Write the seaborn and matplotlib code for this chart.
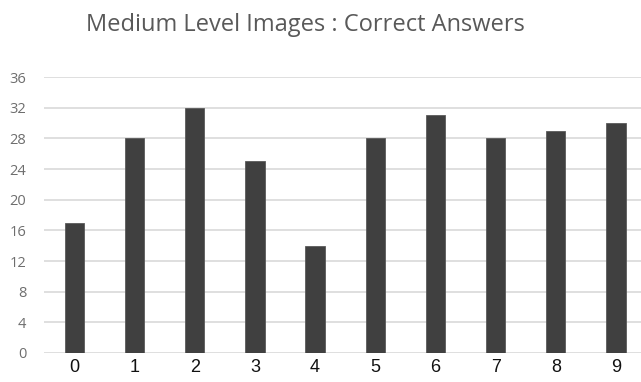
import matplotlib
matplotlib.use("Agg")
import matplotlib.pyplot as plt
import seaborn as sns
import pandas as pd

# Correct answers per image, medium level
images = ["0", "1", "2", "3", "4", "5", "6", "7", "8", "9"]
correct = [17, 28, 32, 25, 14, 28, 31, 28, 29, 30]
y_ticks = [0, 4, 8, 12, 16, 20, 24, 28, 32, 36]

df = pd.DataFrame({"image": images, "correct": correct})

sns.set_theme(style="white")
plt.rcParams["font.family"] = ["Liberation Sans", "DejaVu Sans"]

fig = plt.figure(figsize=(6.41, 3.82), dpi=100)
ax = fig.add_axes([0.069, 0.076, 0.939, 0.722])

sns.barplot(data=df, x="image", y="correct", order=images, color="#404040",
            width=0.32, saturation=1, edgecolor="#5a5a5a", linewidth=0.6,
            ax=ax, zorder=3)

ax.set_ylim(0, 36)
ax.set_xlim(-0.5, 9.5)
ax.set_yticks(y_ticks)
ax.set_yticklabels([str(t) for t in y_ticks], color="#6e6e6e", fontsize=10.5,
                   family=["Open Sans", "DejaVu Sans"])
ax.set_xticklabels(images, color="#111111", fontsize=13)
ax.tick_params(axis="both", length=0)
ax.tick_params(axis="y", pad=13)
ax.tick_params(axis="x", pad=4)
ax.yaxis.grid(True, color="#d9d9d9", linewidth=1.2, zorder=0)
ax.set_axisbelow(True)
for s in ax.spines.values():
    s.set_visible(False)
ax.set_xlabel("")
ax.set_ylabel("")

fig.text(0.476, 0.935, "Medium Level Images : Correct Answers", ha="center",
         va="center", fontsize=17, color="#595959",
         family=["Open Sans", "DejaVu Sans"])

fig.savefig("out.png", dpi=100)
